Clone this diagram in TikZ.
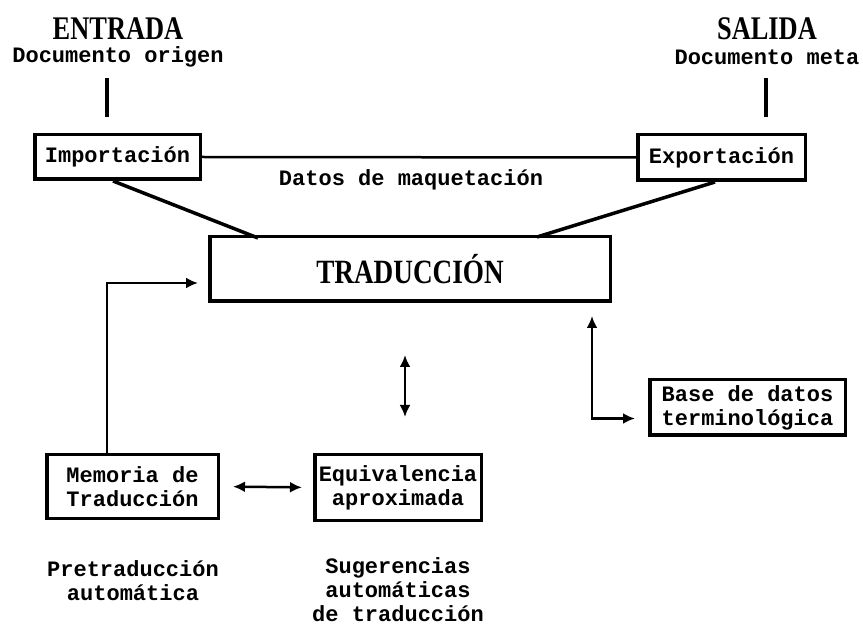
\documentclass[tikz,border=0pt]{standalone}
\usepackage{fontspec}
\usepackage{tikz}
\usetikzlibrary{arrows.meta}
\newfontfamily\monofont{Liberation Mono}
\newfontfamily\headfont[FakeStretch=0.8]{Liberation Serif}

\begin{document}
\begin{tikzpicture}[x=1pt,y=-1pt,
  body/.style={font=\monofont\bfseries\fontsize{22}{24}\selectfont,align=center,inner sep=0pt},
  head/.style={font=\headfont\bfseries\fontsize{33}{36}\selectfont,inner sep=0pt},
  box/.style={body,draw,line width=3.5pt},
  heavy/.style={line width=3.5pt},
  thin/.style={line width=2.5pt},
  tip/.style={line width=2.5pt,>={Latex[length=12pt,width=11pt]}}]
\useasboundingbox (0,0) rectangle (863,628);

\node[head] (entrada) at (118,29) {ENTRADA};
\node[body] (origen) at (118,57) {Documento origen};
\node[head] (salida) at (767,29) {SALIDA};
\node[body] (meta) at (767,57) {Documento meta};

\node[box,minimum width=165.5pt,minimum height=44.5pt] (imp) at (117.5,157) {Importación};
\node[box,minimum width=167.5pt,minimum height=45.5pt] (exp) at (721.5,157.5) {Exportación};
\node[body] (datos) at (411,180) {Datos de maquetación};

\node[box,minimum width=400.5pt,minimum height=64.5pt,font=\headfont\bfseries\fontsize{34}{36}\selectfont] (trad) at (410,269) {TRADUCCIÓN};

\node[box,minimum width=195.5pt,minimum height=55.5pt] (base) at (747.5,407.5) {Base de datos\\terminológica};
\node[box,minimum width=171.5pt,minimum height=63.5pt] (mem) at (132.5,486.5) {Memoria de\\Traducción};
\node[box,minimum width=166.5pt,minimum height=65.5pt] (equiv) at (398,487.5) {Equivalencia\\aproximada};

\node[body] (pre) at (133,581) {Pretraducción\\automática};
\node[body] (sug) at (398,590) {Sugerencias\\automáticas\\de traducción};

\coordinate (o1) at (107,78);
\coordinate (o2) at (107,117);
\coordinate (m1) at (766,78);
\coordinate (m2) at (766,117);
\draw[heavy] (o1) -- (o2);
\draw[heavy] (m1) -- (m2);

\draw[thin] (imp.east) -- (exp.west);
\draw[heavy] ([xshift=-4.5pt]imp.south) -- ([xshift=50pt,yshift=-3pt]trad.north west);
\draw[heavy] ([xshift=-6.5pt]exp.south) -- ([xshift=-75pt,yshift=-2pt]trad.north east);

\draw[tip,->,shorten >=10pt] ([xshift=-25.5pt]mem.north) |- ([yshift=-14pt]trad.west);
\draw[tip,<->,shorten <=52pt,shorten >=36pt] ([xshift=-5pt]trad.south) -- ([xshift=-5pt]trad.south |- equiv.north);
\draw[tip,<->,shorten <=13pt,shorten >=13pt] ([xshift=-20pt]trad.south east) |- ([yshift=-11pt]base.west);
\draw[tip,<->,shorten <=13pt,shorten >=11pt] (mem.east) -- (equiv.west);
\end{tikzpicture}
\end{document}
